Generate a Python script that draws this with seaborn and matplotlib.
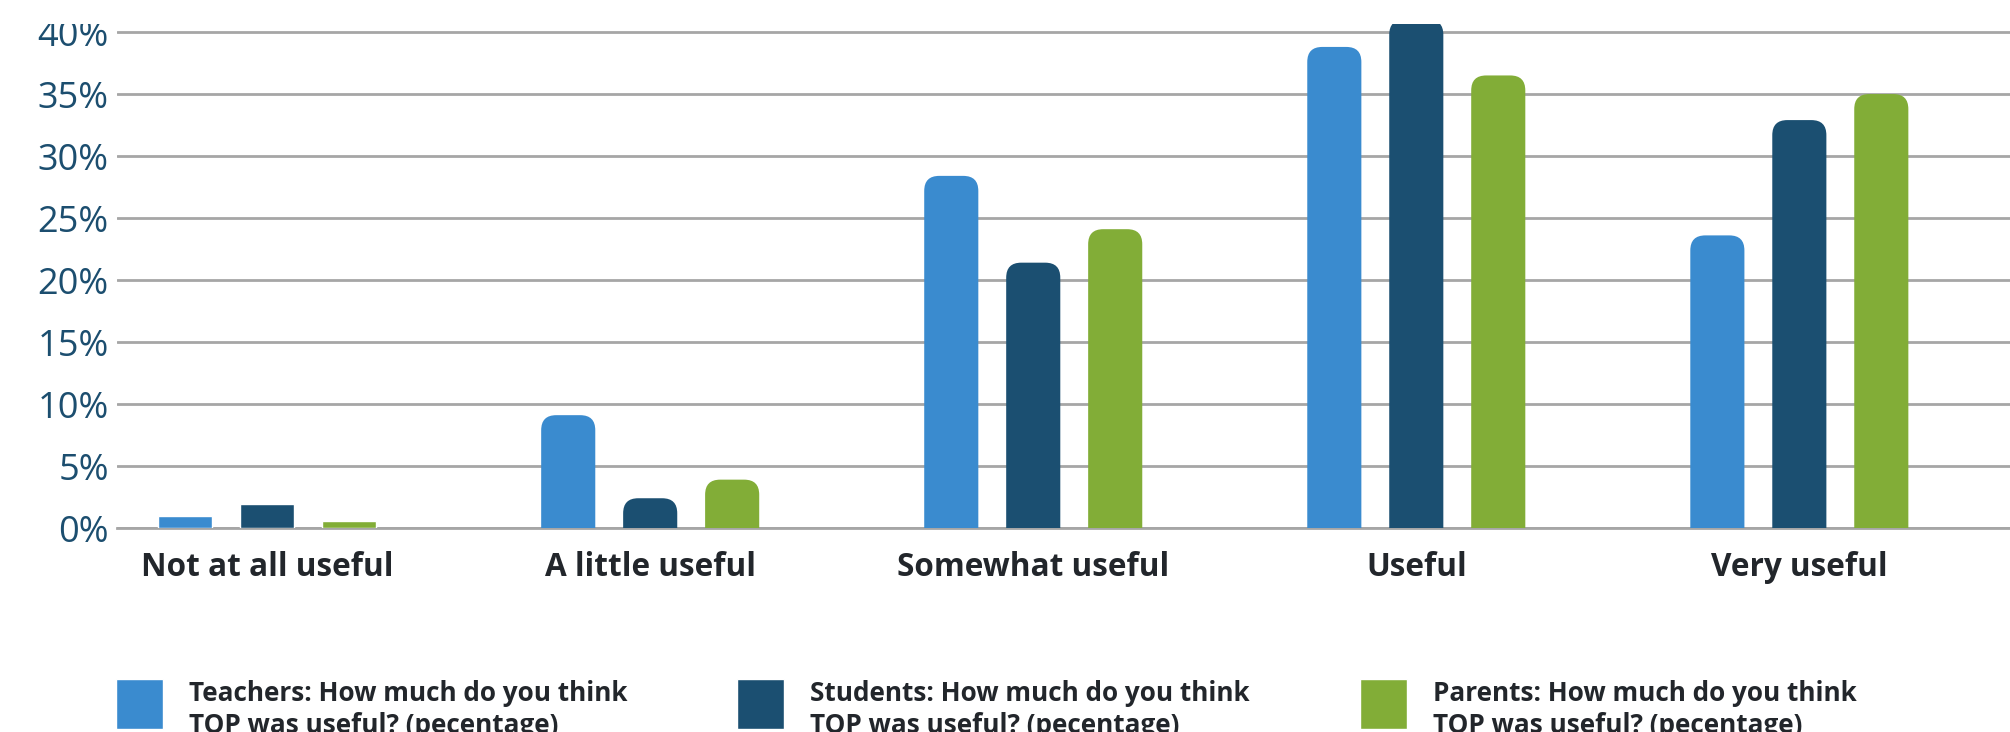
import matplotlib
matplotlib.use("Agg")
import matplotlib.pyplot as plt
from matplotlib.patches import FancyBboxPatch
from matplotlib.transforms import Bbox, TransformedBbox, Affine2D
import pandas as pd
import seaborn as sns

# Survey answers: how useful was TOP?
categories = ["Not at all useful", "A little useful", "Somewhat useful", "Useful", "Very useful"]
groups = [
    "Teachers: How much do you think\nTOP was useful? (pecentage)",
    "Students: How much do you think\nTOP was useful? (pecentage)",
    "Parents: How much do you think\nTOP was useful? (pecentage)",
]
teachers = [1.0, 9.1, 28.4, 38.8, 23.6]
students = [1.9, 2.4, 21.4, 41.0, 32.9]
parents = [0.6, 3.9, 24.1, 36.5, 35.0]
y_ticks = [0, 5, 10, 15, 20, 25, 30, 35, 40]
y_tick_labels = [f"{v}%" for v in y_ticks]

palette = ["#3a8bcf", "#1b4f71", "#82ad37"]
TEXT = "#22262b"
AXIS_BLUE = "#1c4e6f"
GRID = "#a6a6a6"

rows = []
for g, vals in zip(groups, [teachers, students, parents]):
    for c, v in zip(categories, vals):
        rows.append({"answer": c, "group": g, "value": v})
df = pd.DataFrame(rows)

sns.set_theme(style="white")
plt.rcParams["font.family"] = ["Open Sans", "DejaVu Sans"]

W, H = 2010, 732
fig = plt.figure(figsize=(W / 100, H / 100), dpi=100)
ax_left, ax_right = 117 / W, 1.0
ax_bottom, ax_top = (H - 528) / H, (H - 23.5) / H
ax = fig.add_axes([ax_left, ax_bottom, ax_right - ax_left, ax_top - ax_bottom])

sns.barplot(data=df, x="answer", y="value", hue="group", order=categories,
            hue_order=groups, palette=palette, width=0.642, gap=0.34,
            saturation=1, errorbar=None, ax=ax, zorder=2)

xlim = (-0.392, 4.55)
ylim = (0, 40.69)
ax.set_xlim(*xlim)
ax.set_ylim(*ylim)

# Rounded tops on the taller bars
ax_w_px = (ax_right - ax_left) * W
ax_h_px = (ax_top - ax_bottom) * H
ux = (xlim[1] - xlim[0]) / ax_w_px
uy = (ylim[1] - ylim[0]) / ax_h_px
r_px = 15
for bar in list(ax.patches):
    x, w, h = bar.get_x(), bar.get_width(), bar.get_height()
    if h / uy < 28:
        continue
    fc = bar.get_facecolor()
    bar.remove()
    y0 = -2 * r_px * uy
    rounded = FancyBboxPatch((x, y0), w, h - y0,
                             boxstyle=f"round,pad=0,rounding_size={r_px * ux}",
                             mutation_aspect=uy / ux, facecolor=fc,
                             edgecolor="none", linewidth=0, zorder=2)
    ax.add_patch(rounded)

# Axes styling
ax.set_axisbelow(True)
ax.yaxis.grid(True, color=GRID, linewidth=2, zorder=0)
ax.xaxis.grid(False)
for side in ["top", "right", "left"]:
    ax.spines[side].set_visible(False)
ax.spines["bottom"].set_color(GRID)
ax.spines["bottom"].set_linewidth(2)
ax.spines["bottom"].set_zorder(0.5)

ax.set_yticks(y_ticks)
ax.set_yticklabels(y_tick_labels, fontsize=26, color=AXIS_BLUE)
ax.tick_params(axis="y", length=0, pad=6)
ax.tick_params(axis="x", length=0, pad=16.5)
ax.set_xticks(range(len(categories)))
ax.set_xticklabels(categories, fontsize=22.7, fontweight="bold", color=TEXT)
ax.set_xlabel("")
ax.set_ylabel("")

# Tick labels are cut at the plot's top edge
clip = TransformedBbox(Bbox([[0, 0], [1, ax_top]]), fig.transFigure)
for lab in ax.get_yticklabels():
    lab.set_clip_box(clip)
    lab.set_clip_on(True)

sns.move_legend(ax, "upper left", bbox_to_anchor=(116 / W, 1 - 672 / H),
                bbox_transform=fig.transFigure, ncol=3, title=None,
                frameon=False, prop={"weight": "bold", "size": 18.8},
                labelcolor=TEXT, handlelength=1.8, handleheight=2.57,
                handletextpad=1.0, columnspacing=4.2, borderpad=0,
                borderaxespad=0, labelspacing=0.2)
# Sit the two-line labels a little lower beside their swatches
for t in ax.get_legend().get_texts():
    t.set_linespacing(1.26)
    t.set_transform(t.get_transform() + Affine2D().translate(0, -8))

fig.savefig("out.png", dpi=100, facecolor="white")
